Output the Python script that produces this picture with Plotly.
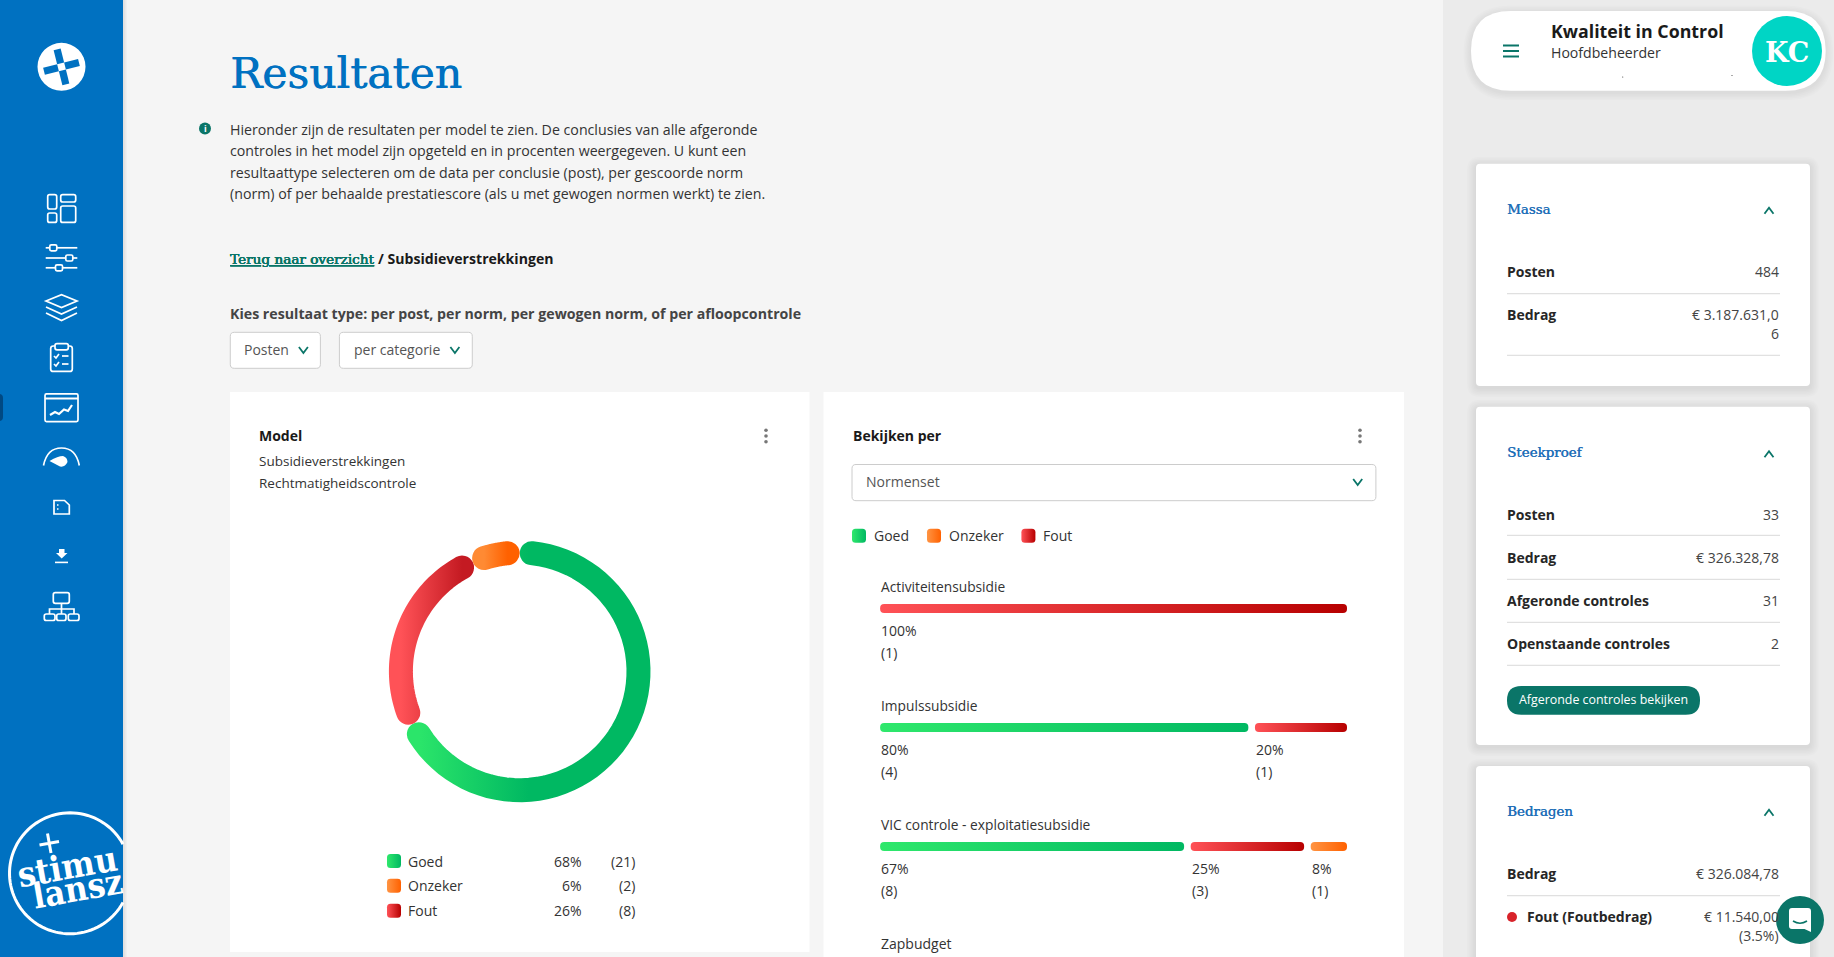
import json
import math
import re

import numpy as np
import plotly.graph_objects as go

# chart data
DONUT_LABELS = ["Goed", "Fout", "Onzeker"]
DONUT_COUNTS = [21, 8, 2]
LEGEND_LABELS = ["Goed", "Onzeker", "Fout"]
LEGEND_PCT = ["68%", "6%", "26%"]
LEGEND_COUNT = ["(21)", "(2)", "(8)"]

BAR_ROWS = ["Activiteitensubsidie", "Impulssubsidie", "VIC controle - exploitatiesubsidie"]
GOED_PCT = [None, 80, 67]
FOUT_PCT = [100, 20, 25]
ONZEKER_PCT = [None, None, 8]
GOED_N = [None, 4, 8]
FOUT_N = [1, 1, 3]
ONZEKER_N = [None, None, 1]

MASSA = [("Posten", "484"), ("Bedrag", "€ 3.187.631,0<br>6")]
STEEKPROEF = [("Posten", "33"), ("Bedrag", "€ 326.328,78"),
              ("Afgeronde controles", "31"), ("Openstaande controles", "2")]

INTRO = ["Hieronder zijn de resultaten per model te zien. De conclusies van alle afgeronde",
         "controles in het model zijn opgeteld en in procenten weergegeven. U kunt een",
         "resultaattype selecteren om de data per conclusie (post), per gescoorde norm",
         "(norm) of per behaalde prestatiescore (als u met gewogen normen werkt) te zien."]

W, H = 1834, 957
SANS = "Open Sans"
SERIF = "DejaVu Serif"
BLUE = "#0071c1"
TEAL = "#0a7568"
TEXT = "#333333"

GRADIENTS = {
    "green": ["#2fe86c", "#00b862"],
    "red": ["#ff5257", "#b70000"],
    "orange": ["#ff9443", "#ff6100"],
    "ringgreen": ["#2be56a", "#00b862", 0.5],
    "ringred": ["#ff5257", "#c41a22"],
    "ringorange": ["#ff8a33", "#ff6100"],
}

shapes = []
annotations = []
swatch_fills = {}


def to_paper(cmd):
    # path written in screen pixels, converted to paper coordinates
    out = []
    is_x = True
    for tok in re.findall(r"[MLQCZ]|-?\d+\.?\d*", cmd):
        if tok.isalpha():
            out.append(tok)
        else:
            v = float(tok)
            out.append(f"{v / W:.5f}" if is_x else f"{1 - v / H:.5f}")
            is_x = not is_x
    return " ".join(out)


def path(cmd, fill="rgba(0,0,0,0)", line=None, lw=1.5, layer="below"):
    shapes.append(dict(type="path", path=to_paper(cmd), xref="paper", yref="paper", layer=layer,
                       fillcolor=fill, line=dict(color=line or "rgba(0,0,0,0)", width=lw if line else 0)))
    return len(shapes) - 1


def rrect(x0, y0, x1, y1, r, **kw):
    cmd = (f"M {x0 + r} {y0} L {x1 - r} {y0} Q {x1} {y0} {x1} {y0 + r} L {x1} {y1 - r} "
           f"Q {x1} {y1} {x1 - r} {y1} L {x0 + r} {y1} Q {x0} {y1} {x0} {y1 - r} "
           f"L {x0} {y0 + r} Q {x0} {y0} {x0 + r} {y0} Z")
    return path(cmd, **kw)


def circle(cx, cy, r, fill, line=None, lw=0, layer="below"):
    shapes.append(dict(type="circle", xref="paper", yref="paper", layer=layer,
                       x0=(cx - r) / W, x1=(cx + r) / W, y0=1 - (cy + r) / H, y1=1 - (cy - r) / H,
                       fillcolor=fill, line=dict(color=line or "rgba(0,0,0,0)", width=lw)))


def shadow(x0, y0, x1, y1, r, steps=6, dy=2):
    for i in range(steps, 0, -1):
        rrect(x0 - i * 1.5, y0 - i * 1.5 + dy, x1 + i * 1.5, y1 + i * 1.5 + dy, r + i * 1.5, fill="rgba(0,0,0,0.012)")


def txt(x, y, s, size=14, color=TEXT, weight=400, family=SANS, anchor="left", angle=0, thick=None):
    font = dict(size=size, color=color, family=family, weight=weight)
    if thick:
        # fakes the medium weight of the slab headings
        font["shadow"] = f"{thick}px 0 0 {color}"
    annotations.append(dict(x=x / W, y=1 - y / H, xref="paper", yref="paper", text=s, showarrow=False,
                            xanchor=anchor, yanchor="middle", align=anchor, textangle=angle, borderpad=0,
                            font=font))


def chevron(x, y, up=False, color=TEAL):
    d = -3 if up else 3
    path(f"M {x - 4.5} {y - d} L {x} {y + d} L {x + 4.5} {y - d}", line=color, lw=1.8)


def swatch(x, y, grad):
    idx = rrect(x, y - 7, x + 14, y + 7, 3.5, fill=GRADIENTS[grad][1])
    swatch_fills[idx] = grad


def kebab(x, y):
    for dy in (-5.8, 0, 5.8):
        circle(x, y + dy, 1.8, "#777777")


def sidebar():
    path(f"M 0 0 L 123 0 L 123 {H} L 0 {H} Z", fill=BLUE)
    for i in range(1, 5):
        path(f"M 123 0 L {123 + i} 0 L {123 + i} {H} L 123 {H} Z", fill="rgba(0,0,0,0.025)")
    rrect(-6, 394, 3, 421, 4, fill="rgba(0,40,80,0.55)")

    # logo with rotated cross
    lx, ly = 61.5, 66.8
    circle(lx, ly, 24, "white")
    a = math.radians(-14)
    c, s = math.cos(a), math.sin(a)
    for ang in range(4):
        t = ang * math.pi / 2
        pts = []
        for u, v in ((3.6, -3.6), (18, -3.6), (18, 3.6), (3.6, 3.6)):
            xr = u * math.cos(t) - v * math.sin(t)
            yr = u * math.sin(t) + v * math.cos(t)
            pts.append((lx + xr * c - yr * s, ly + xr * s + yr * c))
        path("M " + " L ".join(f"{p[0]:.2f} {p[1]:.2f}" for p in pts) + " Z", fill=BLUE)

    ic = dict(line="white", lw=1.7)
    rrect(47.7, 194.7, 56.7, 209, 2, **ic)
    rrect(47.7, 213, 56.7, 222.4, 2, **ic)
    rrect(60.7, 194.7, 75.7, 202, 2, **ic)
    rrect(60.7, 206, 75.7, 222.4, 2, **ic)

    for y, kx in ((247.8, 53.3), (258, 69.3), (267.8, 59)):
        path(f"M 45.7 {y} L {kx - 3.5} {y}", **ic)
        path(f"M {kx + 3.5} {y} L 77.3 {y}", **ic)
        rrect(kx - 3.5, y - 3, kx + 3.5, y + 3, 1.5, **ic)

    path("M 46 301 L 61.5 294.7 L 77 301 L 61.5 307.5 Z", **ic)
    path("M 46 307 L 61.5 314 L 77 307", **ic)
    path("M 46 313 L 61.5 320.5 L 77 313", **ic)

    rrect(50.7, 346, 72.3, 371.4, 2.5, **ic)
    rrect(55, 343.7, 68.3, 349.8, 2, fill=BLUE, line="white", lw=1.7)
    for y in (356, 364):
        path(f"M 54 {y} L 56 {y + 2} L 59 {y - 2}", **ic)
        path(f"M 62 {y} L 68.5 {y}", **ic)

    rrect(45, 393.9, 78, 421.6, 1.5, **ic)
    path("M 45 398.5 L 78 398.5", line="white", lw=2.2)
    path("M 50 415 L 55 412 L 59 414 L 64 409.5 L 68 411 L 72 405", line="white", lw=2.2)

    path("M 43.5 465.5 Q 47 448 61.5 448 Q 76 448 79.3 465.5", **ic)
    path("M 49.5 461 Q 58 456 63 456 Q 67.5 457.5 67.5 462 Q 65 467.5 60 466.5 Z", fill="white")

    path("M 54 500.5 L 64.5 500.5 L 69.3 505 L 69.3 514 L 54 514 Z", **ic)
    path("M 57 505 L 58.5 505 M 57 509 L 58.5 509", **ic)

    path("M 59 549 L 64.5 549 L 64.5 553 L 67.5 553 L 61.7 558.5 L 56 553 L 59 553 Z", fill="white")
    path("M 55 562.4 L 68 562.4", line="white", lw=1.6)

    rrect(53.3, 592.7, 69.3, 603.3, 2, **ic)
    path("M 61.5 603.3 L 61.5 614 M 49.5 614 L 49.5 609 L 74 609 L 74 614", **ic)
    for x0, x1 in ((44.3, 55), (56.7, 66), (68.3, 79)):
        rrect(x0, 614, x1, 620.5, 2, **ic)

    # stimulansz stamp, clipped at the sidebar edge
    cx, cy, r = 70, 873.3, 60.5
    lim = math.acos((123 - cx) / r)
    arc = [(cx + r * math.cos(t), cy + r * math.sin(t)) for t in np.linspace(lim, 2 * math.pi - lim, 90)]
    path("M " + " L ".join(f"{p[0]:.2f} {p[1]:.2f}" for p in arc), line="white", lw=3)
    path("M 39.5 845 L 59 841.5 M 47.5 833.5 L 51 853", line="white", lw=3)
    txt(67, 866, "stimu", size=35, color="white", family="DejaVu Serif Condensed", weight=700,
        anchor="center", angle=-10)
    txt(77.5, 888, "lansz", size=35, color="white", family="DejaVu Serif Condensed", weight=700,
        anchor="center", angle=-10)


def header():
    txt(229, 73.5, "Resultaten", size=42.5, color=BLUE, family=SERIF, thick=0.7)
    circle(205, 128.6, 6, TEAL)
    txt(205, 128.6, "i", size=9, color="white", weight=700, anchor="center")
    for y, line in zip((129, 150, 172, 193), INTRO):
        txt(229, y, line, size=14.2)
    txt(229, 258.5, "<u>Terug naar overzicht</u>", size=13.6, color=TEAL, family=SERIF, thick=0.3)
    txt(377, 258.5, "/ Subsidieverstrekkingen", size=14.1, color="#1a1a1a", weight=700)
    txt(229, 313, "Kies resultaat type: per post, per norm, per gewogen norm, of per afloopcontrole",
        size=14.2, color="#444444", weight=700)
    rrect(230.3, 332.3, 320.4, 368.3, 4, fill="white", line="#cccccc", lw=1)
    txt(243, 349.5, "Posten", size=14, color="#555555")
    chevron(303.4, 350)
    rrect(339.4, 332.3, 472.3, 368.3, 4, fill="white", line="#cccccc", lw=1)
    txt(352.5, 349.5, "per categorie", size=14, color="#555555")
    chevron(454.9, 350)


def left_card():
    path("M 230 392 L 809.5 392 L 809.5 952 L 230 952 Z", fill="white")
    txt(258, 435, "Model", size=14, color="#1a1a1a", weight=700)
    kebab(766, 436)
    txt(258, 461, "Subsidieverstrekkingen", size=13.5)
    txt(258, 483, "Rechtmatigheidscontrole", size=13.5)
    grads = {"Goed": "green", "Onzeker": "orange", "Fout": "red"}
    for y, lab, pct, n in zip((861, 885.8, 910.8), LEGEND_LABELS, LEGEND_PCT, LEGEND_COUNT):
        swatch(387, y, grads[lab])
        txt(407.3, y, lab, size=14)
        txt(582.8, y, pct, size=14, anchor="right")
        txt(635.6, y, n, size=14, anchor="right")


def right_card():
    path(f"M 823.5 392 L 1404 392 L 1404 {H} L 823.5 {H} Z", fill="white")
    txt(851.7, 435, "Bekijken per", size=14, color="#1a1a1a", weight=700)
    kebab(1360, 436)
    rrect(852, 464.5, 1375.9, 500.7, 4, fill="white", line="#cccccc", lw=1)
    txt(865.4, 481.5, "Normenset", size=14, color="#555555")
    chevron(1357.7, 482)
    for x, lab, g in ((852, "Goed", "green"), (927, "Onzeker", "orange"), (1021.4, "Fout", "red")):
        swatch(x, 535.8, g)
        txt(x + 20.7, 535.3, lab, size=14)
    txt(880.1, 943, "Zapbudget", size=14)


def side_panel():
    path(f"M 1443 0 L {W} 0 L {W} {H} L 1443 {H} Z", fill="#ebebeb")

    # user pill
    shadow(1471, 11, 1825.7, 90.7, 39.8, steps=5)
    rrect(1471, 11, 1825.7, 90.7, 39.8, fill="white")
    for y in (45.5, 51, 56.5):
        path(f"M 1503 {y} L 1519 {y}", line=TEAL, lw=2)
    txt(1549.8, 30.7, "Kwaliteit in Control", size=17.8, color="#1a1a1a", weight=700)
    txt(1549.8, 52.2, "Hoofdbeheerder", size=14.1)
    circle(1622.7, 77, 0.6, "#444444")
    circle(1732, 75.5, 0.6, "#444444")
    circle(1787, 51, 35, "#00d5c5")
    txt(1787, 52, "KC", size=27, color="white", family=SERIF, weight=700, anchor="center")

    cards = ((163.7, 386), (406.7, 745), (766, H + 20))
    for y0, y1 in cards:
        shadow(1476, y0, 1810, y1, 4)
        rrect(1476, y0, 1810, y1, 4, fill="white")

    def head(y, s):
        txt(1506.3, y, s, size=13.4, color="#1f6fb8", family=SERIF, thick=0.4)
        chevron(1769, y + 1.7, up=True)

    def row(y, lab, val, div):
        txt(1506.3, y - 0.7, lab, size=14, color="#262626", weight=700)
        txt(1780.3, y - 0.7, val, size=14, color="#444444", anchor="right")
        path(f"M 1507 {div} L 1780 {div}", line="#d9d9d9", lw=1)

    head(209, "Massa")
    row(272, MASSA[0][0], MASSA[0][1], 293.7)
    txt(1506.3, 314.3, MASSA[1][0], size=14, color="#262626", weight=700)
    txt(1780.3, 314.3, "€ 3.187.631,0", size=14, color="#444444", anchor="right")
    txt(1780.3, 333.3, "6", size=14, color="#444444", anchor="right")
    path("M 1507 355.3 L 1780 355.3", line="#d9d9d9", lw=1)

    head(452.5, "Steekproef")
    for y, div, (lab, val) in zip((515, 558, 600.7, 643.7), (535.3, 579.3, 622.3, 665.3), STEEKPROEF):
        row(y, lab, val, div)
    rrect(1507, 686, 1700, 714.7, 14.3, fill=TEAL)
    txt(1603.5, 699.5, "Afgeronde controles bekijken", size=12.4, color="white", anchor="center")

    head(811, "Bedragen")
    row(874, "Bedrag", "€ 326.084,78", 895.7)
    circle(1512, 917, 5, "#d8232a")
    txt(1526.3, 916.3, "Fout (Foutbedrag)", size=14, color="#262626", weight=700)
    txt(1780.3, 916.3, "€ 11.540,00", size=14, color="#444444", anchor="right")
    txt(1780.3, 935.3, "(3.5%)", size=14, color="#444444", anchor="right")

    # chat bubble goes over the texts, post script lifts this layer
    circle(1800, 920, 24, TEAL, layer="above")
    path("M 1792 908 L 1808 908 Q 1811 908 1811 911 L 1811 932 L 1804.5 929 L 1792 929 Q 1789 929 1789 926 "
         "L 1789 911 Q 1789 908 1792 908 Z", fill="white", layer="above")
    path("M 1793 921 Q 1800 925.5 1807 921", line=TEAL, lw=1.5, layer="above")


def add_donut(fig):
    # arcs follow the counts, each end pulled back so the round caps stay inside their share
    total = sum(DONUT_COUNTS)
    start = 0
    cap = 5.8
    for lab, n in zip(DONUT_LABELS, DONUT_COUNTS):
        sweep = n / total * 360
        theta = np.linspace(start + cap, start + sweep - cap, 60)
        fig.add_trace(go.Scatterpolar(r=[118.8 / 140] * len(theta), theta=theta, mode="lines", name=lab,
                                      line=dict(width=24, color="#888888"), subplot="polar",
                                      hoverinfo="skip", showlegend=False))
        start += sweep


def add_bars(fig):
    # segments share the track width minus a fixed gap, like flex items
    gap = 1.41
    x_goed, x_fout, x_onz = [], [], []
    w_goed, w_fout, w_onz = [], [], []
    for g, f, o in zip(GOED_PCT, FOUT_PCT, ONZEKER_PCT):
        parts = [p for p in (g, f, o) if p]
        room = 100 - gap * (len(parts) - 1)
        scale = room / sum(parts)
        pos = 0
        vals = []
        for p in (g, f, o):
            if p:
                vals.append((pos, p * scale))
                pos += p * scale + gap
            else:
                vals.append((None, None))
        x_goed.append(vals[0][0]); w_goed.append(vals[0][1])
        x_fout.append(vals[1][0]); w_fout.append(vals[1][1])
        x_onz.append(vals[2][0]); w_onz.append(vals[2][1])

    series = (("Goed", x_goed, w_goed, GOED_PCT, GOED_N, "#1fd068"),
              ("Fout", x_fout, w_fout, FOUT_PCT, FOUT_N, "#d8232a"),
              ("Onzeker", x_onz, w_onz, ONZEKER_PCT, ONZEKER_N, "#ff7a20"))
    for name, base, widths, pct, cnt, col in series:
        fig.add_trace(go.Bar(y=BAR_ROWS, x=widths, base=base, orientation="h", name=name, width=9 / 119,
                             marker=dict(color=col, cornerradius=4, line=dict(width=0)),
                             hoverinfo="skip", showlegend=False))
        for row, b, p, n in zip(BAR_ROWS, base, pct, cnt):
            if p is None:
                continue
            for shift, s in ((-22.3, f"{p}%"), (-43.7, f"({n})")):
                annotations.append(dict(x=b, y=row, xref="x", yref="y", text=s, showarrow=False, xanchor="left",
                                        yanchor="middle", yshift=shift, borderpad=0,
                                        font=dict(size=14, color=TEXT, family=SANS)))
    for row in BAR_ROWS:
        annotations.append(dict(x=0, y=row, xref="x", yref="y", text=row, showarrow=False, xanchor="left",
                                yanchor="middle", yshift=21.9, borderpad=0,
                                font=dict(size=13.75, color=TEXT, family=SANS)))


POST_SCRIPT = """
var gd = document.getElementById('{plot_id}');
document.body.style.margin = '0';
document.body.style.overflow = 'hidden';
var GRADS = __GRADS__;
var SWATCHES = __SWATCHES__;
function paint() {
  var svg = gd.querySelector('.main-svg');
  if (!svg) return;
  var defs = svg.querySelector('defs');
  var ns = 'http://www.w3.org/2000/svg';
  Object.keys(GRADS).forEach(function (k) {
    if (document.getElementById('g-' + k)) return;
    var g = document.createElementNS(ns, 'linearGradient');
    g.setAttribute('id', 'g-' + k);
    var s0 = document.createElementNS(ns, 'stop');
    s0.setAttribute('offset', '0');
    s0.setAttribute('stop-color', GRADS[k][0]);
    var s1 = document.createElementNS(ns, 'stop');
    s1.setAttribute('offset', GRADS[k][2] || 1);
    s1.setAttribute('stop-color', GRADS[k][1]);
    g.appendChild(s0);
    g.appendChild(s1);
    defs.appendChild(g);
  });
  ['green', 'red', 'orange'].forEach(function (k, i) {
    var tr = gd.querySelectorAll('.barlayer .trace')[i];
    if (tr) tr.querySelectorAll('path').forEach(function (p) {
      p.style.fill = 'url(#g-' + k + ')';
      p.style.opacity = 1;
    });
  });
  ['ringgreen', 'ringred', 'ringorange'].forEach(function (k, i) {
    var line = gd.querySelectorAll('.polarlayer .js-line')[i];
    if (line) {
      line.style.stroke = 'url(#g-' + k + ')';
      line.style.strokeLinecap = 'round';
    }
  });
  Object.keys(SWATCHES).forEach(function (i) {
    var p = gd.querySelector('.layer-below .shapelayer path[data-index="' + i + '"]');
    if (p) p.style.fill = 'url(#g-' + SWATCHES[i] + ')';
  });
  var top = gd.querySelector('.infolayer');
  var above = gd.querySelector('.layer-above');
  if (top && above && above.parentNode !== top.parentNode) top.parentNode.appendChild(above);
}
paint();
gd.on('plotly_afterplot', paint);
setTimeout(paint, 50);
setTimeout(paint, 300);
"""


def main():
    sidebar()
    header()
    left_card()
    right_card()
    side_panel()

    fig = go.Figure()
    add_donut(fig)
    add_bars(fig)

    top = 608.6 - 59.5
    fig.update_layout(
        width=W, height=H, margin=dict(l=0, r=0, t=0, b=0), autosize=False,
        paper_bgcolor="#f5f5f5", plot_bgcolor="rgba(0,0,0,0)",
        barmode="overlay", hovermode=False, showlegend=False,
        font=dict(family=SANS, size=14, color=TEXT),
        shapes=shapes, annotations=annotations,
        xaxis=dict(domain=[880.1 / W, 1347 / W], range=[0, 100], visible=False, fixedrange=True),
        yaxis=dict(domain=[0, 1 - top / H], type="category", categoryorder="array", categoryarray=BAR_ROWS,
                   range=[(H - top) / 119 - 0.5, -0.5], visible=False, fixedrange=True),
        polar=dict(domain=dict(x=[379.7 / W, 659.7 / W], y=[1 - 811.4 / H, 1 - 531.4 / H]),
                   bgcolor="rgba(0,0,0,0)",
                   radialaxis=dict(visible=False, range=[0, 1]),
                   angularaxis=dict(visible=False, direction="clockwise", rotation=90)),
    )

    script = POST_SCRIPT.replace("__GRADS__", json.dumps(GRADIENTS)).replace("__SWATCHES__", json.dumps(swatch_fills))
    fig.write_html("out.html", config=dict(displayModeBar=False), post_script=script)


if __name__ == "__main__":
    main()
    print("complete")
